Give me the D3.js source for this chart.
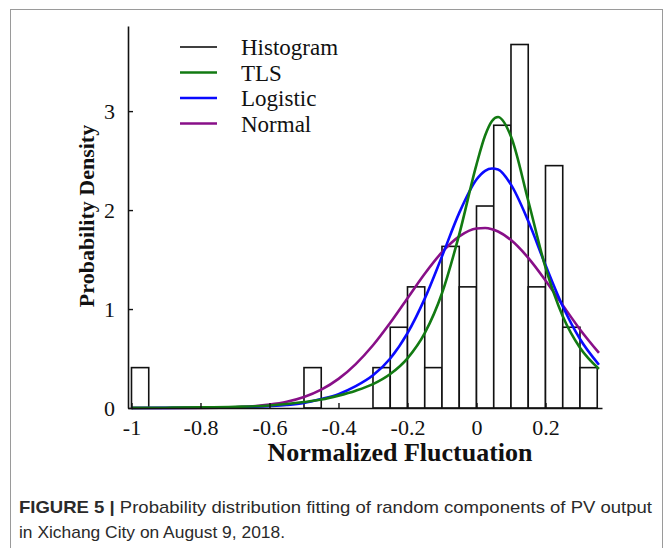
<!DOCTYPE html>
<meta charset="utf-8">
<script src="https://d3js.org/d3.v7.min.js"></script>
<style>
  body { margin: 0; background: #fff; }
</style>
<div id="fig"></div>
<script>

// histogram bins (left edge) and density heights
var binStart = [-1, -0.5, -0.3, -0.25, -0.2, -0.15, -0.1, -0.05, 0, 0.05, 0.1, 0.15, 0.2, 0.25, 0.3];
var binDensity = [0.408, 0.408, 0.408, 0.816, 1.224, 0.408, 1.633, 1.224, 2.041, 2.857, 3.673, 1.224, 2.449, 0.816, 0.408];
var binWidth = 0.05;

// fitted curves
var fitX = [-1, -0.9, -0.8, -0.7, -0.6, -0.55, -0.5, -0.45, -0.4, -0.35, -0.3, -0.25, -0.2, -0.15, -0.1, -0.05, 0, 0.025, 0.045, 0.0625, 0.1, 0.15, 0.2, 0.25, 0.3, 0.355];
var tlsY = [0.001, 0.003, 0.006, 0.012, 0.025, 0.04, 0.06, 0.085, 0.125, 0.175, 0.241, 0.343, 0.502, 0.756, 1.159, 1.754, 2.46, 2.753, 2.90, 2.94, 2.743, 2.094, 1.42, 0.927, 0.609, 0.395];
var logisticY = [0.0004, 0.001, 0.003, 0.007, 0.019, 0.03, 0.05, 0.09, 0.14, 0.22, 0.33, 0.5, 0.756, 1.105, 1.532, 1.972, 2.309, 2.397, 2.42, 2.41, 2.257, 1.889, 1.444, 1.028, 0.697, 0.437];
var normalY = [0.0001, 0.0003, 0.0017, 0.008, 0.034, 0.063, 0.111, 0.185, 0.294, 0.444, 0.634, 0.861, 1.109, 1.357, 1.574, 1.734, 1.814, 1.819, 1.806, 1.783, 1.697, 1.517, 1.289, 1.039, 0.794, 0.557];

var xTicks = [-1, -0.8, -0.6, -0.4, -0.2, 0, 0.2];
var yTicks = [0, 1, 2, 3];

var legendLabels = ["Histogram", "TLS", "Logistic", "Normal"];
var legendColors = ["#000000", "#127a12", "#0a0aff", "#880f88"];

var W = 672, H = 548;
var svg = d3.select("#fig").append("svg")
    .attr("width", W)
    .attr("height", H)
    .style("font-family", "'Liberation Serif', 'Times New Roman', serif");

// outer frame
svg.append("rect")
    .attr("x", 10.5).attr("y", 9.5)
    .attr("width", 652).attr("height", 560)
    .attr("fill", "none").attr("stroke", "#9a9a9a").attr("stroke-width", 1);

var x = d3.scaleLinear().domain([-1.0101, 0.3638]).range([128, 602]);
var y = d3.scaleLinear().domain([0, 3.86]).range([408, 26]);

// bars
svg.append("g").selectAll("rect")
  .data(binStart)
  .enter().append("rect")
    .attr("x", function(d) { return x(d); })
    .attr("y", function(d, i) { return y(binDensity[i]); })
    .attr("width", function(d) { return x(d + binWidth) - x(d); })
    .attr("height", function(d, i) { return y(0) - y(binDensity[i]); })
    .attr("fill", "#fff")
    .attr("stroke", "#111")
    .attr("stroke-width", 1.6);

// curves
var series = [normalY, logisticY, tlsY];
var seriesColors = [legendColors[3], legendColors[2], legendColors[1]];
series.forEach(function(vals, k) {
  svg.append("path")
    .datum(fitX)
    .attr("fill", "none")
    .attr("stroke", seriesColors[k])
    .attr("stroke-width", 2.6)
    .attr("d", d3.line()
      .curve(d3.curveMonotoneX)
      .x(function(d) { return x(d); })
      .y(function(d, i) { return y(vals[i]); }));
});

// axes
var xAxis = svg.append("g")
    .attr("transform", "translate(0,408)")
    .call(d3.axisBottom(x).tickValues(xTicks).tickSizeInner(-5).tickSizeOuter(0)
      .tickPadding(11).tickFormat(function(d) { return String(d); }));
var yAxis = svg.append("g")
    .attr("transform", "translate(128,0)")
    .call(d3.axisLeft(y).tickValues(yTicks).tickSizeInner(-5).tickSizeOuter(0)
      .tickPadding(13).tickFormat(function(d) { return String(d); }));

[xAxis, yAxis].forEach(function(a) {
  a.select(".domain").attr("stroke", "#111").attr("stroke-width", 1.6);
  a.selectAll(".tick line").attr("stroke", "#111").attr("stroke-width", 1.4);
  a.selectAll(".tick text")
    .attr("fill", "#111")
    .style("font-family", "'Liberation Serif', serif")
    .style("font-size", "22px");
});

// axis titles
svg.append("text")
    .attr("x", 400).attr("y", 461)
    .attr("text-anchor", "middle")
    .style("font-size", "26px").style("font-weight", "bold")
    .attr("fill", "#111")
    .text("Normalized Fluctuation");

svg.append("text")
    .attr("transform", "translate(94,216) rotate(-90)")
    .attr("text-anchor", "middle")
    .style("font-size", "22px").style("font-weight", "bold")
    .attr("fill", "#111")
    .text("Probability Density");

// legend
var leg = svg.append("g");
legendLabels.forEach(function(lab, i) {
  var ly = 47 + i * 25.5;
  leg.append("line")
    .attr("x1", 180).attr("x2", 217)
    .attr("y1", ly).attr("y2", ly)
    .attr("stroke", legendColors[i])
    .attr("stroke-width", i === 0 ? 1.6 : 2.6);
  leg.append("text")
    .attr("x", 241).attr("y", ly)
    .attr("dy", "0.35em")
    .style("font-size", "23px")
    .attr("fill", "#111")
    .text(lab);
});

// caption
var cap = svg.append("g")
    .style("font-family", "'Liberation Sans', Arial, sans-serif")
    .style("font-size", "17px")
    .attr("fill", "#2a2a2a");
var c1 = cap.append("text")
    .attr("x", 19).attr("y", 513)
    .attr("textLength", 633).attr("lengthAdjust", "spacingAndGlyphs");
c1.append("tspan").style("font-weight", "bold").text("FIGURE 5 | ");
c1.append("tspan").text("Probability distribution fitting of random components of PV output");
cap.append("text")
    .attr("x", 19).attr("y", 538)
    .attr("textLength", 266).attr("lengthAdjust", "spacingAndGlyphs")
    .text("in Xichang City on August 9, 2018.");

</script>
